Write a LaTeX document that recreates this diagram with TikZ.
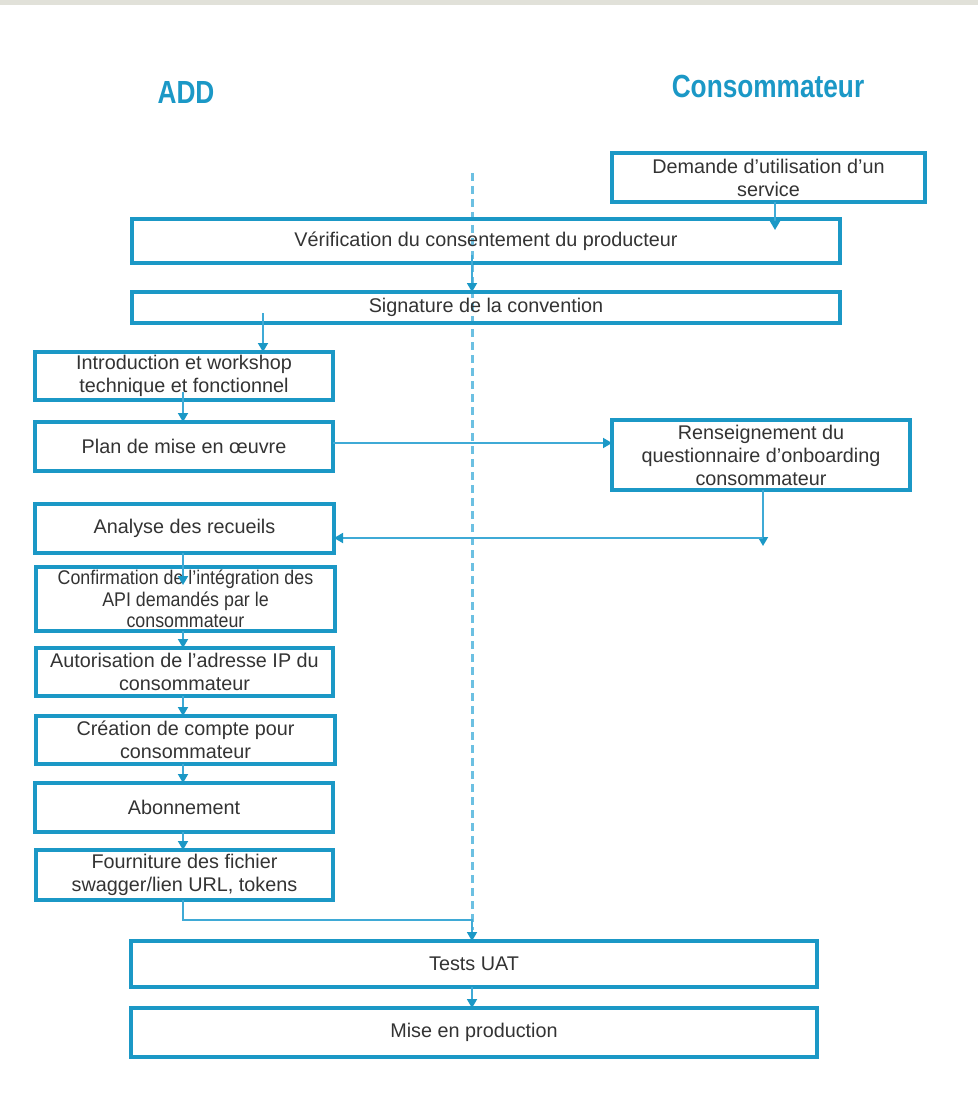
\documentclass[tikz,border=0pt]{standalone}
\usepackage{fontspec}
\setmainfont{Liberation Sans}
\newfontfamily\hdrfont[FakeStretch=0.82]{Liberation Sans}
\newfontfamily\narrowbody[FakeStretch=0.9]{Liberation Sans}
\usetikzlibrary{arrows.meta}
\definecolor{boxblue}{HTML}{1B98C6}
\definecolor{arrblue}{HTML}{3FAAD6}
\definecolor{dashblue}{HTML}{6CC0E2}
\definecolor{txtgray}{HTML}{333333}
\definecolor{band}{HTML}{E1E1D9}
\begin{document}
\begin{tikzpicture}[x=1pt,y=-1pt,
  stepbox/.style={draw=boxblue,line width=3.2pt,rectangle,inner sep=0pt,outer sep=0pt,
    align=center,text=txtgray,font=\fontsize{19.8}{23}\selectfont},
  arr/.style={draw=arrblue,line width=1.8pt,-{Triangle[length=9pt,width=10pt,color=boxblue]}},
  hdr/.style={text=boxblue,font=\hdrfont\bfseries\fontsize{32}{36}\selectfont,anchor=base,inner sep=0pt},
  divider/.style={draw=dashblue,line width=3pt,dash pattern=on 8pt off 5pt}]
\useasboundingbox (0,0) rectangle (978,1107);
\fill[band] (0,0) rectangle (978,5);

% headers
\node[hdr] (hadd) at (186,104) {ADD};
\node[hdr] (hcons) at (768,98) {Consommateur};

% divider
\coordinate (dtop) at (472,173);
\coordinate (dbot) at (472,930);
\draw[divider] (dtop) -- (dbot);

% boxes
\node[stepbox,minimum width=313pt,minimum height=49pt] (dem) at (768.5,177.5) {Demande d’utilisation d’un\\service};
\node[stepbox,minimum width=708pt,minimum height=44pt] (ver) at (486,241) {Vérification du consentement du producteur};
\node[stepbox,minimum width=708pt,minimum height=31pt] (sig) at (486,307.5) {Signature de la convention};
\node[stepbox,minimum width=298pt,minimum height=48pt] (intro) at (184,376) {Introduction et workshop\\technique et fonctionnel};
\node[stepbox,minimum width=298pt,minimum height=49pt] (plan) at (184,446.5) {Plan de mise en œuvre};
\node[stepbox,minimum width=298pt,minimum height=70pt] (rens) at (761,455) {Renseignement du\\questionnaire d’onboarding\\consommateur};
\node[stepbox,minimum width=299pt,minimum height=49pt] (ana) at (184.5,528.5) {Analyse des recueils};
\node[stepbox,minimum width=299pt,minimum height=64pt,font=\narrowbody\fontsize{19.8}{21.5}\selectfont] (conf) at (185.5,599) {Confirmation de l’intégration des\\API demandés par le\\consommateur};
\node[stepbox,minimum width=297pt,minimum height=48pt] (auto) at (184.5,672) {Autorisation de l’adresse IP du\\consommateur};
\node[stepbox,minimum width=299pt,minimum height=48pt] (crea) at (185.5,740) {Création de compte pour\\consommateur};
\node[stepbox,minimum width=298pt,minimum height=49pt] (abo) at (184,807.5) {Abonnement};
\node[stepbox,minimum width=297pt,minimum height=50pt] (four) at (184.5,875) {Fourniture des fichier\\swagger/lien URL, tokens};
\node[stepbox,minimum width=686pt,minimum height=46pt] (tests) at (474,964) {Tests UAT};
\node[stepbox,minimum width=686pt,minimum height=49pt] (mise) at (474,1032.5) {Mise en production};

% helper coordinates
\coordinate (xa) at (775,0);
\coordinate (xb) at (472,0);
\coordinate (xc) at (263,0);
\coordinate (xd) at (183,0);
\coordinate (yplan) at (0,443);
\coordinate (rdown) at (763,546);
\coordinate (rturn) at (763,538);
\coordinate (fturn) at (183,920);
\coordinate (tturn) at (472,920);

% connectors
\draw[arr,shorten >=-11pt] (dem.south -| xa) -- (ver.north -| xa);
\draw[arr,shorten <=-8pt] (ver.south -| xb) -- (sig.north -| xb);
\draw[arr,shorten <=-10pt] (sig.south -| xc) -- (intro.north -| xc);
\draw[arr,shorten <=-8pt] (intro.south -| xd) -- (plan.north -| xd);
\draw[arr] (plan.east |- yplan) -- (rens.west |- yplan);
\draw[arr] (rens.south -| rdown) -- (rdown);
\draw[arr] (rturn) -- (ana.east |- rturn);
\draw[arr,shorten >=-18pt] (ana.south -| xd) -- (conf.north -| xd);
\draw[arr] (conf.south -| xd) -- (auto.north -| xd);
\draw[arr] (auto.south -| xd) -- (crea.north -| xd);
\draw[arr] (crea.south -| xd) -- (abo.north -| xd);
\draw[arr] (abo.south -| xd) -- (four.north -| xd);
\draw[arr] (four.south -| xd) -- (fturn) -- (tturn) -- (tests.north -| xb);
\draw[arr] (tests.south -| xb) -- (mise.north -| xb);
\end{tikzpicture}
\end{document}
